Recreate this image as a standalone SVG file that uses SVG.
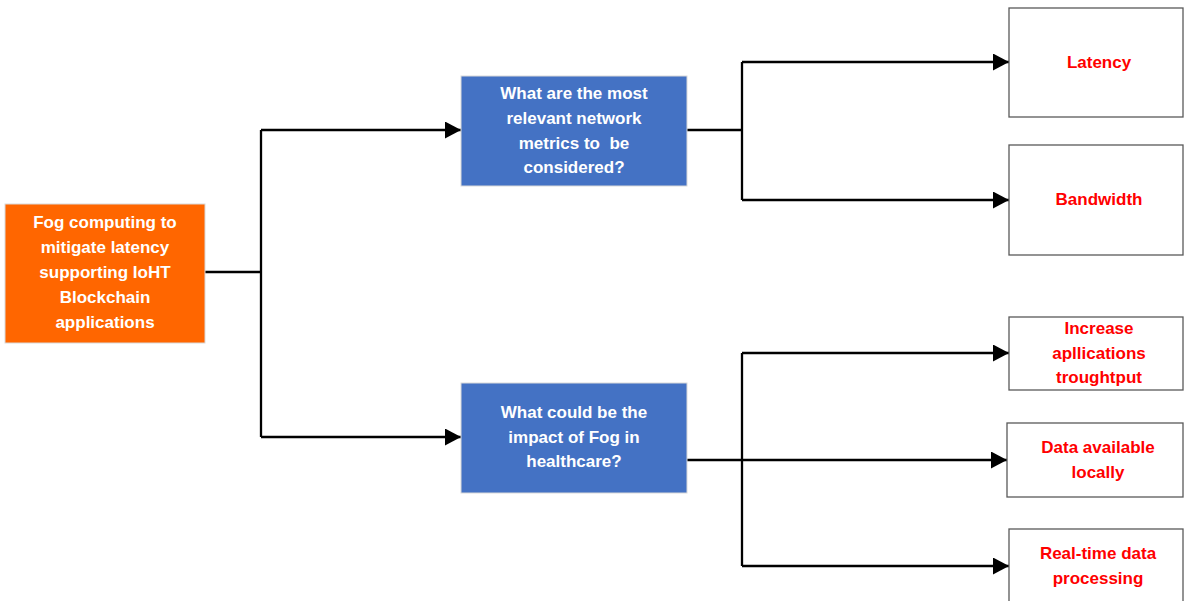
<svg xmlns="http://www.w3.org/2000/svg" width="1184" height="601" viewBox="0 0 1184 601">
  <defs>
    <marker id="arrow" viewBox="0 0 16 17" refX="16" refY="8.5" markerWidth="16" markerHeight="17" markerUnits="userSpaceOnUse" orient="auto">
      <path d="M0,0 L16,8.5 L0,17 Z" fill="#000"/>
    </marker>
    <style>
      .root { fill: #FF6600; stroke: #D9D9D9; stroke-width: 1; }
      .question { fill: #4472C4; stroke: #D9D9D9; stroke-width: 1; }
      .answer { fill: #FFFFFF; stroke: #595959; stroke-width: 1.3; }
      .lbl { font-family: "Liberation Sans", Arial, sans-serif; font-weight: bold; font-size: 17px; text-anchor: middle; dominant-baseline: central; }
      .w { fill: #FFFFFF; }
      .r { fill: #FF0000; }
      .wire { fill: none; stroke: #000; stroke-width: 2.3; }
      .arr { fill: none; stroke: #000; stroke-width: 2.3; marker-end: url(#arrow); }
    </style>
  </defs>
  <rect width="1184" height="601" fill="#FFFFFF"/>

  <g id="connectors">
    <!-- root to questions -->
    <path class="wire" d="M205,272 H261 M261,130 V437"/>
    <path class="arr" d="M261,130 H461"/>
    <path class="arr" d="M261,437 H461"/>
    <!-- first question to metrics -->
    <path class="wire" d="M687,130 H742 M742,62 V200"/>
    <path class="arr" d="M742,62 H1009"/>
    <path class="arr" d="M742,200 H1009"/>
    <!-- second question to impacts -->
    <path class="wire" d="M687,460 H742 M742,353 V566"/>
    <path class="arr" d="M742,353 H1009"/>
    <path class="arr" d="M742,460 H1007"/>
    <path class="arr" d="M742,566 H1009"/>
  </g>

  <g id="node-root">
    <rect class="root" x="5" y="204" width="200" height="139"/>
    <text class="lbl w" x="105" y="222">Fog computing to</text>
    <text class="lbl w" x="105" y="247">mitigate latency</text>
    <text class="lbl w" x="105" y="272">supporting IoHT</text>
    <text class="lbl w" x="105" y="297">Blockchain</text>
    <text class="lbl w" x="105" y="322">applications</text>
  </g>

  <g id="node-q-metrics">
    <rect class="question" x="461" y="76" width="226" height="110"/>
    <text class="lbl w" x="574" y="93">What are the most</text>
    <text class="lbl w" x="574" y="118">relevant network</text>
    <text class="lbl w" x="574" y="143" xml:space="preserve">metrics to  be</text>
    <text class="lbl w" x="574" y="167">considered?</text>
  </g>

  <g id="node-q-impact">
    <rect class="question" x="461" y="383" width="226" height="110"/>
    <text class="lbl w" x="574" y="412">What could be the</text>
    <text class="lbl w" x="574" y="437">impact of Fog in</text>
    <text class="lbl w" x="574" y="461">healthcare?</text>
  </g>

  <g id="node-latency">
    <rect class="answer" x="1009" y="8" width="174" height="109"/>
    <text class="lbl r" x="1099" y="62">Latency</text>
  </g>

  <g id="node-bandwidth">
    <rect class="answer" x="1009" y="145" width="174" height="110"/>
    <text class="lbl r" x="1099" y="199">Bandwidth</text>
  </g>

  <g id="node-throughput">
    <rect class="answer" x="1009" y="317" width="174" height="73"/>
    <text class="lbl r" x="1099" y="328">Increase</text>
    <text class="lbl r" x="1099" y="353">apllications</text>
    <text class="lbl r" x="1099" y="377">troughtput</text>
  </g>

  <g id="node-local-data">
    <rect class="answer" x="1007" y="423" width="176" height="74"/>
    <text class="lbl r" x="1098" y="447">Data available</text>
    <text class="lbl r" x="1098" y="472">locally</text>
  </g>

  <g id="node-realtime">
    <rect class="answer" x="1009" y="529" width="174" height="80"/>
    <text class="lbl r" x="1098" y="553">Real-time data</text>
    <text class="lbl r" x="1098" y="578">processing</text>
  </g>
</svg>
